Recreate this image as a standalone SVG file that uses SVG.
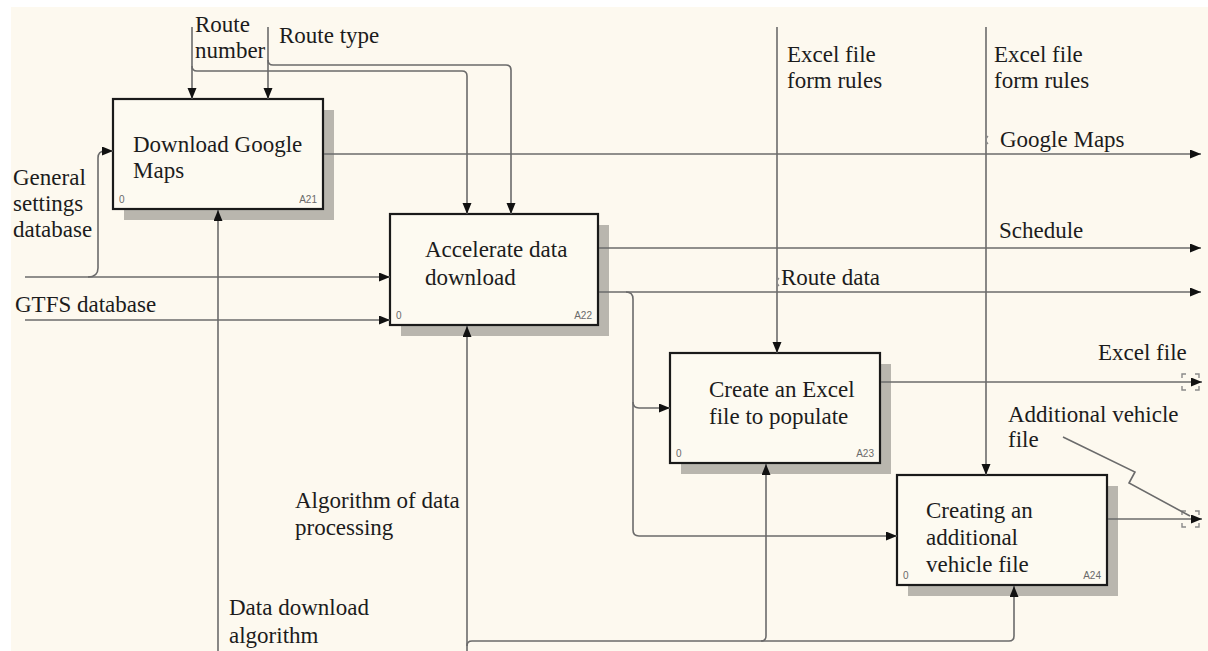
<svg xmlns="http://www.w3.org/2000/svg" width="1208" height="651" viewBox="0 0 1208 651">
<defs>
<style>
.bg{fill:#fdf9ef}
.box{fill:#fdfaf1;stroke:#1a1a1a;stroke-width:2.2}
.sh{fill:#b9b6ae}
.t{font-family:"Liberation Serif","Times New Roman",serif;font-size:23px;fill:#1c1c1c}
.n{font-family:"Liberation Sans",Arial,sans-serif;font-size:10px;fill:#6a6a6a}
.c{fill:none;stroke:#6b6b6b;stroke-width:1.6}
.br{fill:none;stroke:#8a8a8a;stroke-width:1.4}
</style>
<marker id="ah" markerUnits="userSpaceOnUse" markerWidth="12" markerHeight="10" refX="11" refY="4.5" orient="auto">
<path d="M0,0 L11,4.5 L0,9 z" fill="#111"/>
</marker>
</defs>
<rect width="1208" height="651" fill="#ffffff"/>
<rect class="bg" x="11" y="7" width="1197" height="644"/>

<g id="A21">
<rect class="sh" x="124" y="110" width="210" height="110"/>
<rect class="box" x="113" y="99" width="210" height="110"/>
<text class="t" x="133" y="152">Download Google</text>
<text class="t" x="133" y="178">Maps</text>
<text class="n" x="119" y="203">0</text>
<text class="n" x="317" y="203" text-anchor="end">A21</text>
</g>

<g id="A22">
<rect class="sh" x="401" y="225" width="208" height="111"/>
<rect class="box" x="390" y="214" width="208" height="111"/>
<text class="t" x="425" y="257">Accelerate data</text>
<text class="t" x="425" y="285">download</text>
<text class="n" x="396" y="319">0</text>
<text class="n" x="592" y="319" text-anchor="end">A22</text>
</g>

<g id="A23">
<rect class="sh" x="681" y="364" width="210" height="110"/>
<rect class="box" x="670" y="353" width="210" height="110"/>
<text class="t" x="709" y="397">Create an Excel</text>
<text class="t" x="709" y="424">file to populate</text>
<text class="n" x="676" y="457">0</text>
<text class="n" x="874" y="457" text-anchor="end">A23</text>
</g>

<g id="A24">
<rect class="sh" x="908" y="486" width="210" height="110"/>
<rect class="box" x="897" y="475" width="210" height="110"/>
<text class="t" x="926" y="518">Creating an</text>
<text class="t" x="926" y="545">additional</text>
<text class="t" x="926" y="572">vehicle file</text>
<text class="n" x="903" y="579">0</text>
<text class="n" x="1101" y="579" text-anchor="end">A24</text>
</g>

<g id="connectors">
<!-- Route number -->
<path class="c" d="M192,27 V99" marker-end="url(#ah)"/>
<path class="c" d="M192,66 Q192,71 197,71 H462 Q467,71 467,76 V214" marker-end="url(#ah)"/>
<!-- Route type -->
<path class="c" d="M268,27 V99" marker-end="url(#ah)"/>
<path class="c" d="M268,60 Q268,65 273,65 H506 Q511,65 511,70 V214" marker-end="url(#ah)"/>
<!-- General settings database -->
<path class="c" d="M25,277 H390" marker-end="url(#ah)"/>
<path class="c" d="M88,277 Q98,277 98,268 V158 Q98,151 105,151 H113" marker-end="url(#ah)"/>
<!-- GTFS database -->
<path class="c" d="M25,320 H390" marker-end="url(#ah)"/>
<!-- Data download algorithm -->
<path class="c" d="M218,651 V210" marker-end="url(#ah)"/>
<!-- Algorithm of data processing -->
<path class="c" d="M467,651 V326" marker-end="url(#ah)"/>
<path class="c" d="M467,646 Q467,641 472,641 H761 Q766,641 766,636 V464" marker-end="url(#ah)"/>
<path class="c" d="M761,641 H1009 Q1014,641 1014,636 V586" marker-end="url(#ah)"/>
<!-- Google Maps -->
<path class="c" d="M324,154 H1201" marker-end="url(#ah)"/>
<!-- Schedule -->
<path class="c" d="M599,248 H1201" marker-end="url(#ah)"/>
<!-- Route data -->
<path class="c" d="M599,292 H1201" marker-end="url(#ah)"/>
<path class="c" d="M626,292 Q633,292 633,299 V402 Q633,408 639,408 H670" marker-end="url(#ah)"/>
<path class="c" d="M633,402 V530 Q633,536 639,536 H897" marker-end="url(#ah)"/>
<!-- Excel file form rules -->
<path class="c" d="M777,27 V353" marker-end="url(#ah)"/>
<path class="c" d="M986,27 V475" marker-end="url(#ah)"/>
<!-- Excel file -->
<path class="c" d="M881,382 H1202" marker-end="url(#ah)"/>
<path class="br" d="M1186,374 H1182 V378 M1182,386 V390 H1186 M1195,374 H1199 V378 M1199,386 V390 H1195"/>
<!-- Additional vehicle file -->
<path class="c" d="M1108,519 H1202" marker-end="url(#ah)"/>
<path class="br" d="M1186,511 H1182 V515 M1182,523 V527 H1186 M1195,511 H1199 V515 M1199,523 V527 H1195"/>
<path class="c" d="M1063,437 L1135,472 L1129,483 L1190,516" stroke-width="1.2"/>
<!-- small label ticks -->
<path class="br" d="M988,136 Q984,140 988,144"/>
<path class="br" d="M779,278 Q775,282 779,286"/>

<text class="t" x="195" y="32">Route</text>
<text class="t" x="195" y="58">number</text>
<text class="t" x="279" y="43">Route type</text>
<text class="t" x="13" y="185">General</text>
<text class="t" x="13" y="211">settings</text>
<text class="t" x="13" y="237">database</text>
<text class="t" x="15" y="312">GTFS database</text>
<text class="t" x="787" y="62">Excel file</text>
<text class="t" x="787" y="88">form rules</text>
<text class="t" x="994" y="62">Excel file</text>
<text class="t" x="994" y="88">form rules</text>
<text class="t" x="1000" y="147">Google Maps</text>
<text class="t" x="999" y="238">Schedule</text>
<text class="t" x="781" y="285">Route data</text>
<text class="t" x="1098" y="360">Excel file</text>
<text class="t" x="1008" y="422">Additional vehicle</text>
<text class="t" x="1008" y="447">file</text>
<text class="t" x="295" y="508">Algorithm of data</text>
<text class="t" x="295" y="535">processing</text>
<text class="t" x="229" y="615">Data download</text>
<text class="t" x="229" y="643">algorithm</text>
</g>
</svg>
